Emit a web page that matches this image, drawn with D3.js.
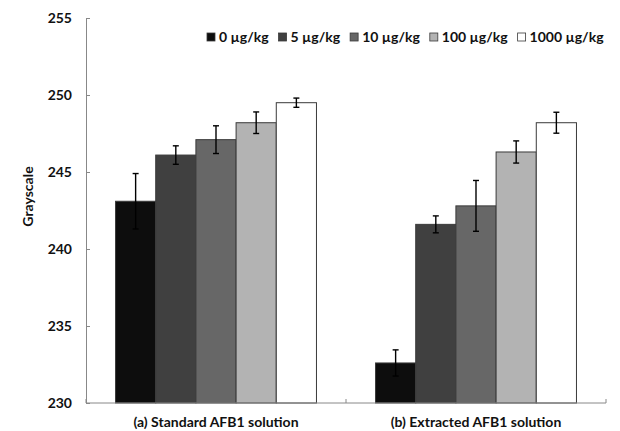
<!DOCTYPE html>
<html>
<head>
<meta charset="utf-8">
<script src="https://cdn.jsdelivr.net/npm/d3@7"></script>
<style>
  body { margin: 0; background: #fff; }
  svg text { font-family: Lato, "DejaVu Sans", sans-serif; font-weight: bold; fill: #111; }
</style>
</head>
<body>
<svg width="620" height="431"></svg>
<script>
// --- Data ---
const categories = ["(a) Standard AFB1 solution", "(b) Extracted AFB1 solution"];
const seriesNames = ["0 \u00b5g/kg", "5 \u00b5g/kg", "10 \u00b5g/kg", "100 \u00b5g/kg", "1000 \u00b5g/kg"];
const seriesColors = ["#0d0d0d", "#404040", "#676767", "#b3b3b3", "#ffffff"];
const valuesA = [243.1, 246.1, 247.1, 248.2, 249.5];
const valuesB = [232.6, 241.6, 242.8, 246.3, 248.2];
const errorsA = [1.8, 0.6, 0.9, 0.7, 0.3];
const errorsB = [0.85, 0.55, 1.65, 0.72, 0.68];
const yTicks = [230, 235, 240, 245, 250, 255];

const svg = d3.select("svg");
const margin = { left: 86, right: 14, top: 18, bottom: 28 };
const W = 620, H = 431;

const x = d3.scaleBand()
  .domain(categories)
  .range([margin.left, W - margin.right])
  .paddingInner(0)
  .paddingOuter(0);

const xs = d3.scaleBand()
  .domain(seriesNames)
  .range([0, x.bandwidth()])
  .paddingOuter(0.735)
  .paddingInner(0);

const y = d3.scaleLinear()
  .domain([230, 255])
  .range([H - margin.bottom, margin.top]);

const rows = categories.map((c, i) => ({
  cat: c,
  vals: (i === 0 ? valuesA : valuesB).map((v, j) => ({
    name: seriesNames[j],
    color: seriesColors[j],
    value: v,
    err: (i === 0 ? errorsA : errorsB)[j]
  }))
}));

// --- Bars ---
const groups = svg.selectAll(".grp")
  .data(rows)
  .join("g")
  .attr("class", "grp")
  .attr("transform", d => `translate(${x(d.cat)},0)`);

groups.selectAll("rect")
  .data(d => d.vals)
  .join("rect")
  .attr("x", d => xs(d.name))
  .attr("y", d => y(d.value))
  .attr("width", xs.bandwidth())
  .attr("height", d => y(230) - y(d.value))
  .attr("fill", d => d.color)
  .attr("stroke", "#3a3a3a")
  .attr("stroke-width", 1);

// --- Error bars ---
const eb = groups.selectAll(".err")
  .data(d => d.vals)
  .join("g")
  .attr("class", "err")
  .attr("stroke", "#000")
  .attr("stroke-width", 1.4);
eb.append("line")
  .attr("x1", d => xs(d.name) + xs.bandwidth() / 2)
  .attr("x2", d => xs(d.name) + xs.bandwidth() / 2)
  .attr("y1", d => y(d.value + d.err))
  .attr("y2", d => y(d.value - d.err));
[1, -1].forEach(s => {
  eb.append("line")
    .attr("x1", d => xs(d.name) + xs.bandwidth() / 2 - 3)
    .attr("x2", d => xs(d.name) + xs.bandwidth() / 2 + 3)
    .attr("y1", d => y(d.value + s * d.err))
    .attr("y2", d => y(d.value + s * d.err));
});

// --- Y axis ---
const yAxis = svg.append("g")
  .attr("transform", `translate(${margin.left},0)`)
  .call(d3.axisLeft(y).tickValues(yTicks).tickSize(-4).tickPadding(14).tickSizeOuter(0));
yAxis.select(".domain").attr("stroke", "#888");
yAxis.selectAll(".tick line").attr("stroke", "#888");
yAxis.selectAll(".tick text").attr("font-size", 14).attr("fill", "#111");

// --- X axis ---
const xAxis = svg.append("g");
xAxis.append("line")
  .attr("x1", x.range()[0]).attr("x2", x.range()[1])
  .attr("y1", y(230)).attr("y2", y(230))
  .attr("stroke", "#888");
const bounds = categories.map(c => x(c)).concat([x.range()[1]]);
xAxis.selectAll(".xt")
  .data(bounds)
  .join("line")
  .attr("x1", d => d).attr("x2", d => d)
  .attr("y1", y(230)).attr("y2", y(230) - 4)
  .attr("stroke", "#888");
xAxis.selectAll(".xl")
  .data(categories)
  .join("text")
  .attr("x", d => x(d) + x.bandwidth() / 2)
  .attr("y", y(230) + 24)
  .attr("text-anchor", "middle")
  .attr("font-size", 14)
  .text(d => d);

// --- Y title ---
svg.append("text")
  .attr("transform", `translate(33,${(y(230) + y(255)) / 2 - 14}) rotate(-90)`)
  .attr("text-anchor", "middle")
  .attr("font-size", 14)
  .text("Grayscale");

// --- Legend ---
const legend = svg.append("g").attr("transform", "translate(207,37)");
let lx = 0;
seriesNames.forEach((n, i) => {
  const it = legend.append("g").attr("transform", `translate(${lx},0)`);
  it.append("rect")
    .attr("x", 0).attr("y", -4).attr("width", 8).attr("height", 8)
    .attr("fill", seriesColors[i])
    .attr("stroke", "#3a3a3a").attr("stroke-width", 0.8);
  const t = it.append("text")
    .attr("x", 12).attr("y", 5)
    .attr("font-size", 14)
    .text(n);
  lx += 12 + t.node().getComputedTextLength() + 10;
});
</script>
</body>
</html>
